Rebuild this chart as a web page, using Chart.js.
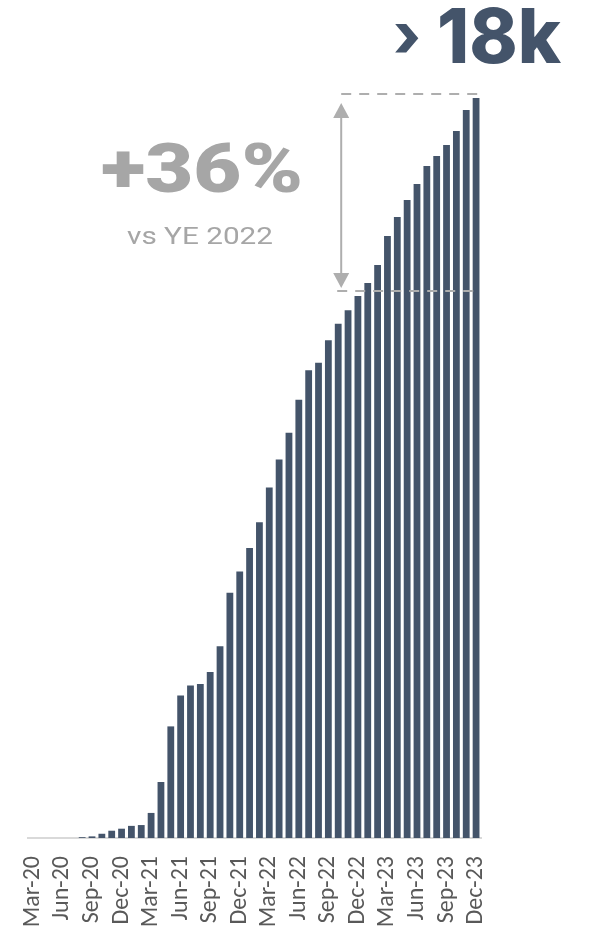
<!DOCTYPE html>
<html>
<head>
<meta charset="utf-8">
<script src="https://cdn.jsdelivr.net/npm/chart.js@4/dist/chart.umd.min.js"></script>
<style>
  html, body { margin: 0; padding: 0; background: #ffffff; }
  #wrap { position: relative; width: 590px; height: 932px; overflow: hidden; }
  #c, #overlay { position: absolute; left: 0; top: 0; }
</style>
</head>
<body>
<div id="wrap">
  <canvas id="c" width="590" height="932"></canvas>
  <svg id="overlay" width="590" height="932" xmlns="http://www.w3.org/2000/svg">
    <text x="393" y="57" font-family="Inter, 'Noto Sans', sans-serif" font-weight="800" font-size="62" fill="#44546A">›</text>
    <text x="437" y="63" font-family="Inter, 'Noto Sans', sans-serif" font-weight="800" font-size="76" fill="#44546A" textLength="124" lengthAdjust="spacingAndGlyphs">18k</text>
    <text x="101" y="192" font-family="Roboto, 'Liberation Sans', sans-serif" font-weight="900" font-size="69" fill="#A6A6A6" textLength="202" lengthAdjust="spacingAndGlyphs">+36%</text>
    <text x="127" y="244" font-family="Roboto, 'Liberation Sans', sans-serif" font-weight="400" font-size="24.5" fill="#A6A6A6" textLength="146" lengthAdjust="spacingAndGlyphs">vs YE 2022</text>
  </svg>
</div>
<script>
// Cumulative monthly totals, Mar 2020 – Dec 2023
const months = [
  'Mar-20','Apr-20','May-20','Jun-20','Jul-20','Aug-20','Sep-20','Oct-20','Nov-20','Dec-20',
  'Jan-21','Feb-21','Mar-21','Apr-21','May-21','Jun-21','Jul-21','Aug-21','Sep-21','Oct-21','Nov-21','Dec-21',
  'Jan-22','Feb-22','Mar-22','Apr-22','May-22','Jun-22','Jul-22','Aug-22','Sep-22','Oct-22','Nov-22','Dec-22',
  'Jan-23','Feb-23','Mar-23','Apr-23','May-23','Jun-23','Jul-23','Aug-23','Sep-23','Oct-23','Nov-23','Dec-23'
];

const totals = [
  0, 0, 0, 0, 0, 20, 40, 105, 180, 230,
  300, 320, 620, 1385, 2760, 3525, 3770, 3810, 4105, 4745, 6065, 6590,
  7170, 7810, 8665, 9360, 10020, 10835, 11570, 11755, 12310, 12715, 13050, 13405,
  13725, 14170, 14890, 15360, 15780, 16175, 16620, 16865, 17140, 17485, 18005, 18300
];

// Quarterly tick labels shown under the axis
const shownTicks = [
  'Mar-20','Jun-20','Sep-20','Dec-20','Mar-21','Jun-21','Sep-21','Dec-21',
  'Mar-22','Jun-22','Sep-22','Dec-22','Mar-23','Jun-23','Sep-23','Dec-23'
];

// Year-end reference points for the growth bracket
const compareFrom = 'Dec-22';
const compareTo = 'Dec-23';

const barColor = '#44546A';
const guideColor = '#AEAEAE';

// Dashed year-end guides plus the double-headed arrow between them
const growthBracket = {
  id: 'growthBracket',
  afterDatasetsDraw(chart) {
    const { ctx, scales: { x, y }, chartArea } = chart;
    const iFrom = months.indexOf(compareFrom);
    const iTo = months.indexOf(compareTo);
    const yTop = y.getPixelForValue(totals[iTo]) - 4;
    const yLow = y.getPixelForValue(totals[iFrom]) - 5;
    const arrowX = x.getPixelForValue(iFrom - 2) + 3;

    ctx.save();
    ctx.strokeStyle = guideColor;
    ctx.lineWidth = 2;
    ctx.setLineDash([10, 8]);
    ctx.beginPath();
    ctx.moveTo(arrowX, yTop);
    ctx.lineTo(chartArea.right, yTop);
    ctx.moveTo(arrowX - 4, yLow);
    ctx.lineTo(chartArea.right - 3, yLow);
    ctx.stroke();

    ctx.setLineDash([]);
    const tipTop = yTop + 9;
    const tipLow = yLow - 3;
    const headH = 15, headW = 8;
    ctx.beginPath();
    ctx.moveTo(arrowX, tipTop + headH - 1);
    ctx.lineTo(arrowX, tipLow - headH + 1);
    ctx.stroke();
    ctx.fillStyle = guideColor;
    ctx.beginPath();
    ctx.moveTo(arrowX, tipTop);
    ctx.lineTo(arrowX + headW, tipTop + headH);
    ctx.lineTo(arrowX - headW, tipTop + headH);
    ctx.closePath();
    ctx.fill();
    ctx.beginPath();
    ctx.moveTo(arrowX, tipLow);
    ctx.lineTo(arrowX + headW, tipLow - headH);
    ctx.lineTo(arrowX - headW, tipLow - headH);
    ctx.closePath();
    ctx.fill();
    ctx.restore();
  }
};

new Chart(document.getElementById('c'), {
  type: 'bar',
  data: {
    labels: months,
    datasets: [{
      data: totals,
      backgroundColor: barColor,
      borderWidth: 0,
      barPercentage: 0.69,
      categoryPercentage: 1.0
    }]
  },
  options: {
    responsive: false,
    devicePixelRatio: 1,
    animation: false,
    layout: { padding: { left: 28, right: 109, top: 98, bottom: 0 } },
    plugins: { legend: { display: false }, tooltip: { enabled: false } },
    scales: {
      x: {
        afterFit(scale) { scale.height = 94; },
        grid: { display: false, drawTicks: false },
        border: { display: true, color: '#D9D9D9', width: 2 },
        ticks: {
          autoSkip: false,
          minRotation: 90,
          maxRotation: 90,
          padding: 18,
          color: '#595959',
          font: { family: "Carlito, 'Open Sans', sans-serif", size: 24 },
          callback: (v, i) => shownTicks.includes(months[i]) ? months[i] : ''
        }
      },
      y: {
        display: false,
        min: 0,
        max: totals[totals.length - 1]
      }
    }
  },
  plugins: [growthBracket]
});
</script>
</body>
</html>
